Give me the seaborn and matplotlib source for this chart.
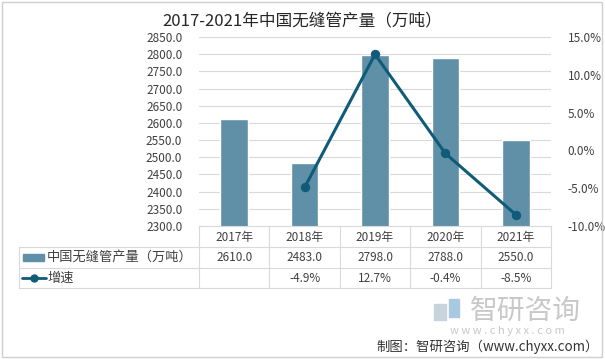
import numpy as np
import pandas as pd
import seaborn as sns
import matplotlib.pyplot as plt
from matplotlib.lines import Line2D
from matplotlib.patches import Rectangle

# Données
annees = ['2017年', '2018年', '2019年', '2020年', '2021年']
production = [2610.0, 2483.0, 2798.0, 2788.0, 2550.0]
croissance = [None, -4.9, 12.7, -0.4, -8.5]
serie_barre = '中国无缝管产量（万吨）'
serie_ligne = '增速'
titre = '2017-2021年中国无缝管产量（万吨）'

sns.set_style('white')
plt.rcParams['font.family'] = ['Noto Sans CJK SC', 'DejaVu Sans']

W, H = 605, 359
def fx(px):
    return px / W
def fy(py):
    return 1 - py / H

c_barre = '#6090a8'
c_ligne = '#0f5b78'
c_grille = '#d9d9d9'
c_texte = '#404040'

df = pd.DataFrame({'annee': annees, 'prod': production})
df_g = pd.DataFrame({'x': range(len(annees)), 'g': croissance}).dropna()

fig = plt.figure(figsize=(6.05, 3.59), dpi=100)
ax = fig.add_axes([fx(199), fy(226), fx(551) - fx(199), fy(37) - fy(226)])

sns.barplot(data=df, x='annee', y='prod', color=c_barre, width=0.39,
            saturation=1, ax=ax, zorder=2)
ax.set_ylim(2300, 2850)
ax.set_yticks(np.arange(2300, 2851, 50))
ax.set_yticklabels([f'{v:.1f}' for v in np.arange(2300, 2851, 50)],
                   fontsize=8.5, color=c_texte)
ax.set_xlim(-0.5, len(annees) - 0.5)
ax.set_xticks([])
ax.set_xlabel('')
ax.set_ylabel('')
ax.grid(axis='y', color=c_grille, linewidth=0.8, zorder=0)
for s in ax.spines.values():
    s.set_visible(False)
ax.tick_params(axis='y', length=0, pad=12)

ax2 = ax.twinx()
sns.lineplot(data=df_g, x='x', y='g', color=c_ligne, linewidth=2.2,
             marker='o', markersize=6, markeredgecolor=c_ligne, ax=ax2)
ax2.set_ylim(-10, 15)
ax2.set_yticks(np.arange(-10, 16, 5))
ax2.set_yticklabels([f'{v:.1f}%' for v in np.arange(-10, 16, 5)],
                    fontsize=8.5, color=c_texte)
ax2.set_xlim(-0.5, len(annees) - 0.5)
ax2.set_ylabel('')
ax2.set_xlabel('')
for s in ax2.spines.values():
    s.set_visible(False)
ax2.tick_params(axis='y', length=0, pad=12)

fig.text(0.5, fy(21), titre, ha='center', va='center', fontsize=12, color='#262626')

# Tableau de données
col_w = (551 - 199) / len(annees)
y_rows = [226, 247, 268, 288]
lk = dict(color=c_grille, linewidth=0.8, transform=fig.transFigure)
fig.add_artist(Line2D([fx(199), fx(551)], [fy(226), fy(226)], **lk))
for yy in y_rows[1:]:
    fig.add_artist(Line2D([fx(19), fx(551)], [fy(yy), fy(yy)], **lk))
for i in range(len(annees) + 1):
    xx = 199 + i * col_w
    fig.add_artist(Line2D([fx(xx), fx(xx)], [fy(226), fy(288)], **lk))
fig.add_artist(Line2D([fx(19), fx(19)], [fy(247), fy(288)], **lk))

for i, a in enumerate(annees):
    cx = fx(199 + (i + 0.5) * col_w)
    fig.text(cx, fy(237), a, ha='center', va='center', fontsize=8.5, color=c_texte)
    fig.text(cx, fy(257.5), f'{production[i]:.1f}', ha='center', va='center',
             fontsize=8.5, color=c_texte)
    if croissance[i] is not None:
        fig.text(cx, fy(278), f'{croissance[i]:.1f}%', ha='center', va='center',
                 fontsize=8.5, color=c_texte)

fig.add_artist(Rectangle((fx(23), fy(261)), fx(44) - fx(23), fy(254) - fy(261),
                         transform=fig.transFigure, color=c_barre))
fig.text(fx(47), fy(257.5), serie_barre, ha='left', va='center', fontsize=9.5, color=c_texte)
fig.add_artist(Line2D([fx(22), fx(46)], [fy(278), fy(278)], color=c_ligne, linewidth=2,
                      transform=fig.transFigure))
fig.add_artist(Line2D([fx(34)], [fy(278)], color=c_ligne, marker='o', markersize=5,
                      transform=fig.transFigure))
fig.text(fx(47), fy(278), serie_ligne, ha='left', va='center', fontsize=9.5, color=c_texte)

# Filigrane et source
fig.add_artist(Rectangle((fx(434), fy(320)), fx(446) - fx(434), fy(304) - fy(320),
                         transform=fig.transFigure, color='#c9d3dc'))
fig.add_artist(Rectangle((fx(449), fy(317)), fx(459) - fx(449), fy(299) - fy(317),
                         transform=fig.transFigure, color='#a9c9e0'))
fig.text(fx(525), fy(311), '智研咨询', ha='center', va='center', fontsize=20,
         color='#c8c8c8')
fig.text(fx(507), fy(331), 'w w w . c h y x x . c o m', ha='center', va='center',
         fontsize=8, color='#c8c8c8')
fig.text(fx(599), fy(347), '制图：智研咨询（www.chyxx.com）', ha='right', va='center',
         fontsize=9.6, color='#333333')

fig.add_artist(Rectangle((fx(2), fy(357)), fx(602) - fx(2), fy(2) - fy(357),
                         transform=fig.transFigure, fill=False, edgecolor='#cfcfcf',
                         linewidth=1))

plt.savefig('out.png', dpi=100)
